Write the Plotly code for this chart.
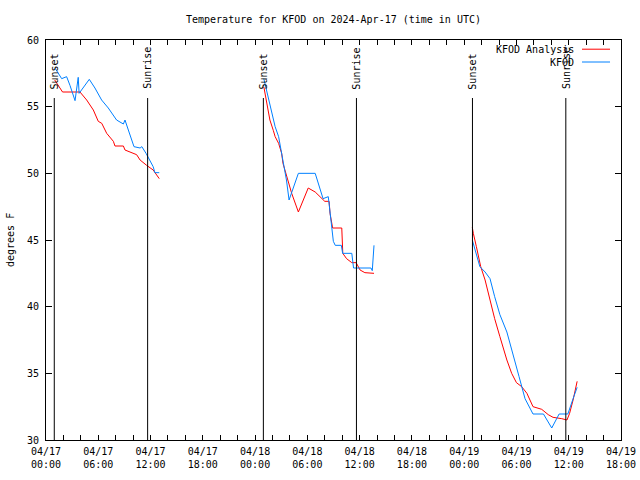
import plotly.graph_objects as go

# ---- data ----
analysis_times = [
    "2024-04-17 01:00", "2024-04-17 01:54", "2024-04-17 03:54", "2024-04-17 04:40", "2024-04-17 05:26",
    "2024-04-17 06:00", "2024-04-17 06:24", "2024-04-17 06:58", "2024-04-17 07:44", "2024-04-17 07:55",
    "2024-04-17 08:53", "2024-04-17 09:04", "2024-04-17 10:24", "2024-04-17 10:48", "2024-04-17 11:33",
    "2024-04-17 12:18", "2024-04-17 13:00",
    None,
    "2024-04-18 01:00", "2024-04-18 01:30", "2024-04-18 01:42", "2024-04-18 02:06", "2024-04-18 02:18",
    "2024-04-18 02:42", "2024-04-18 03:03", "2024-04-18 03:12", "2024-04-18 03:36", "2024-04-18 04:12",
    "2024-04-18 04:58", "2024-04-18 05:30", "2024-04-18 06:06", "2024-04-18 06:54", "2024-04-18 07:27",
    "2024-04-18 08:00", "2024-04-18 08:30", "2024-04-18 08:36", "2024-04-18 08:54", "2024-04-18 09:57",
    "2024-04-18 10:04", "2024-04-18 10:30", "2024-04-18 11:06", "2024-04-18 11:36", "2024-04-18 12:03",
    "2024-04-18 12:36", "2024-04-18 13:39",
    None,
    "2024-04-19 00:56", "2024-04-19 01:03", "2024-04-19 01:24", "2024-04-19 01:54", "2024-04-19 02:24",
    "2024-04-19 02:58", "2024-04-19 03:30", "2024-04-19 04:06", "2024-04-19 04:54", "2024-04-19 05:27",
    "2024-04-19 06:00", "2024-04-19 06:36", "2024-04-19 07:12", "2024-04-19 07:54", "2024-04-19 08:54",
    "2024-04-19 09:39", "2024-04-19 10:12", "2024-04-19 11:12", "2024-04-19 11:48", "2024-04-19 12:06",
    "2024-04-19 12:30", "2024-04-19 12:58",
]
analysis_temps = [
    57.0, 56.1, 56.1, 55.5, 54.75,
    53.9, 53.75, 53.0, 52.4, 52.05,
    52.05, 51.75, 51.4, 51.0, 50.6,
    50.25, 49.6,
    None,
    56.5, 54.75, 54.0, 53.2, 52.75,
    52.25, 51.5, 50.75, 49.9, 48.5,
    47.1, 48.0, 48.9, 48.6, 48.25,
    47.9, 47.9, 47.0, 45.9, 45.9,
    44.0, 43.6, 43.3, 43.3, 42.75,
    42.55, 42.5,
    None,
    45.95, 45.5, 44.5, 43.0, 42.0,
    40.5, 39.1, 37.75, 36.0, 35.0,
    34.3, 34.0, 33.5, 32.5, 32.3,
    31.9, 31.7, 31.6, 31.5, 32.0,
    33.0, 34.4,
]

obs_times = [
    "2024-04-17 01:02", "2024-04-17 01:48", "2024-04-17 02:22", "2024-04-17 02:45", "2024-04-17 03:20",
    "2024-04-17 03:42", "2024-04-17 03:48", "2024-04-17 04:06", "2024-04-17 04:58", "2024-04-17 05:37",
    "2024-04-17 06:23", "2024-04-17 07:09", "2024-04-17 08:06", "2024-04-17 08:53", "2024-04-17 09:04",
    "2024-04-17 09:27", "2024-04-17 10:06", "2024-04-17 10:48", "2024-04-17 11:00", "2024-04-17 11:29",
    "2024-04-17 11:56", "2024-04-17 12:18", "2024-04-17 12:30", "2024-04-17 13:00",
    None,
    "2024-04-18 01:00", "2024-04-18 01:30", "2024-04-18 01:42", "2024-04-18 02:18", "2024-04-18 02:42",
    "2024-04-18 02:54", "2024-04-18 03:12", "2024-04-18 03:36", "2024-04-18 03:54", "2024-04-18 04:12",
    "2024-04-18 04:58", "2024-04-18 06:54", "2024-04-18 07:48", "2024-04-18 08:24", "2024-04-18 08:36",
    "2024-04-18 08:48", "2024-04-18 08:59", "2024-04-18 09:12", "2024-04-18 09:54", "2024-04-18 10:03",
    "2024-04-18 11:06", "2024-04-18 11:18", "2024-04-18 13:18", "2024-04-18 13:27", "2024-04-18 13:39",
    None,
    "2024-04-19 00:56", "2024-04-19 01:15", "2024-04-19 01:48", "2024-04-19 02:24", "2024-04-19 02:58",
    "2024-04-19 03:30", "2024-04-19 04:06", "2024-04-19 04:54", "2024-04-19 05:36", "2024-04-19 06:18",
    "2024-04-19 06:59", "2024-04-19 07:54", "2024-04-19 09:06", "2024-04-19 10:03", "2024-04-19 10:54",
    "2024-04-19 11:54", "2024-04-19 12:30", "2024-04-19 12:58",
]
obs_temps = [
    57.9, 57.1, 57.25, 56.6, 55.45,
    57.2, 56.0, 56.25, 57.05, 56.4,
    55.5, 54.9, 54.0, 53.7, 54.0,
    53.25, 52.0, 51.9, 52.0, 51.5,
    51.0, 50.5, 50.05, 50.05,
    None,
    57.1, 55.75, 55.25, 53.5, 52.75,
    52.0, 51.0, 49.5, 48.0, 48.6,
    50.0, 50.0, 48.1, 48.25, 47.0,
    46.25, 44.9, 44.6, 44.6, 44.0,
    44.0, 42.9, 42.9, 42.7, 44.6,
    None,
    45.0, 44.25, 43.0, 42.6, 42.1,
    40.75, 39.4, 38.1, 36.5, 34.75,
    33.1, 31.95, 31.95, 30.9, 31.95,
    31.95, 33.1, 33.95,
]

sunset_times = ["2024-04-17 00:57", "2024-04-18 00:57", "2024-04-19 00:57"]
sunrise_times = ["2024-04-17 11:40", "2024-04-18 11:38", "2024-04-19 11:40"]

series_names = ["KFOD Analysis", "KFOD"]
series_colors = ["#ff0000", "#0080ff"]

title_text = "Temperature for KFOD on 2024-Apr-17 (time in UTC)"
y_label = "degrees F"
x_range = ["2024-04-17 00:00", "2024-04-19 18:00"]
y_range = [30, 60]

FONT = "DejaVu Sans Mono"

fig = go.Figure()
fig.add_trace(go.Scatter(x=analysis_times, y=analysis_temps, mode="lines",
                         line=dict(color=series_colors[0], width=1),
                         name=series_names[0], connectgaps=False, showlegend=False))
fig.add_trace(go.Scatter(x=obs_times, y=obs_temps, mode="lines",
                         line=dict(color=series_colors[1], width=1),
                         name=series_names[1], connectgaps=False, showlegend=False))

# Sunset / Sunrise markers
for times, label in ((sunset_times, "Sunset"), (sunrise_times, "Sunrise")):
    for t in times:
        fig.add_shape(type="line", xref="x", yref="y domain", x0=t, x1=t, y0=0, y1=0.855,
                      line=dict(color="black", width=1))
        fig.add_annotation(x=t, y=0.872, xref="x", yref="y domain", text=label,
                           textangle=-90, showarrow=False, xanchor="center", yanchor="bottom",
                           font=dict(family=FONT, size=10, color="black"))

# Manual legend (text left of line sample, gnuplot style)
leg_y = [0.977, 0.945]
for name, color, yy in zip(series_names, series_colors, leg_y):
    fig.add_annotation(x=0.9217, y=yy, xref="paper", yref="paper", text=name,
                       showarrow=False, xanchor="right", yanchor="middle",
                       font=dict(family=FONT, size=10, color="black"))
    fig.add_shape(type="line", xref="paper", yref="paper", x0=0.9322, x1=0.9809, y0=yy, y1=yy,
                  line=dict(color=color, width=1))

# y-axis label
fig.add_annotation(x=-0.0626, y=0.5, xref="paper", yref="paper", text=y_label,
                   textangle=-90, showarrow=False, xanchor="center", yanchor="middle",
                   font=dict(family=FONT, size=10, color="black"))

fig.update_layout(
    width=640, height=480,
    margin=dict(l=46, r=19, t=40, b=40, pad=0, autoexpand=False),
    paper_bgcolor="white", plot_bgcolor="white",
    title=dict(text=title_text, x=0.5, xref="paper", xanchor="center",
               y=1 - 19 / 480, yanchor="middle",
               font=dict(family=FONT, size=10, color="black")),
    font=dict(family=FONT, size=10, color="black"),
)
fig.update_xaxes(
    type="date", range=x_range, showgrid=False, zeroline=False, automargin=False,
    showline=True, linecolor="black", linewidth=1, mirror="allticks",
    ticks="inside", ticklen=5, tickcolor="black", tickwidth=1,
    dtick=6 * 3600 * 1000, tick0="2024-04-17 00:00",
    tickformat="%m/%d<br>%H:%M", ticklabelstandoff=2,
    tickfont=dict(family=FONT, size=10, color="black"),
    minor=dict(dtick=2 * 3600 * 1000, ticks="inside", ticklen=5, tickcolor="black", showgrid=False),
)
fig.update_yaxes(
    range=y_range, showgrid=False, zeroline=False, automargin=False,
    showline=True, linecolor="black", linewidth=1, mirror="allticks",
    ticks="inside", ticklen=6, tickcolor="black", tickwidth=1,
    dtick=5, tick0=30, ticklabelstandoff=4,
    tickfont=dict(family=FONT, size=10, color="black"),
)

fig.write_html("out.html", config={"displayModeBar": False},
               post_script="document.body.style.margin='0';")
